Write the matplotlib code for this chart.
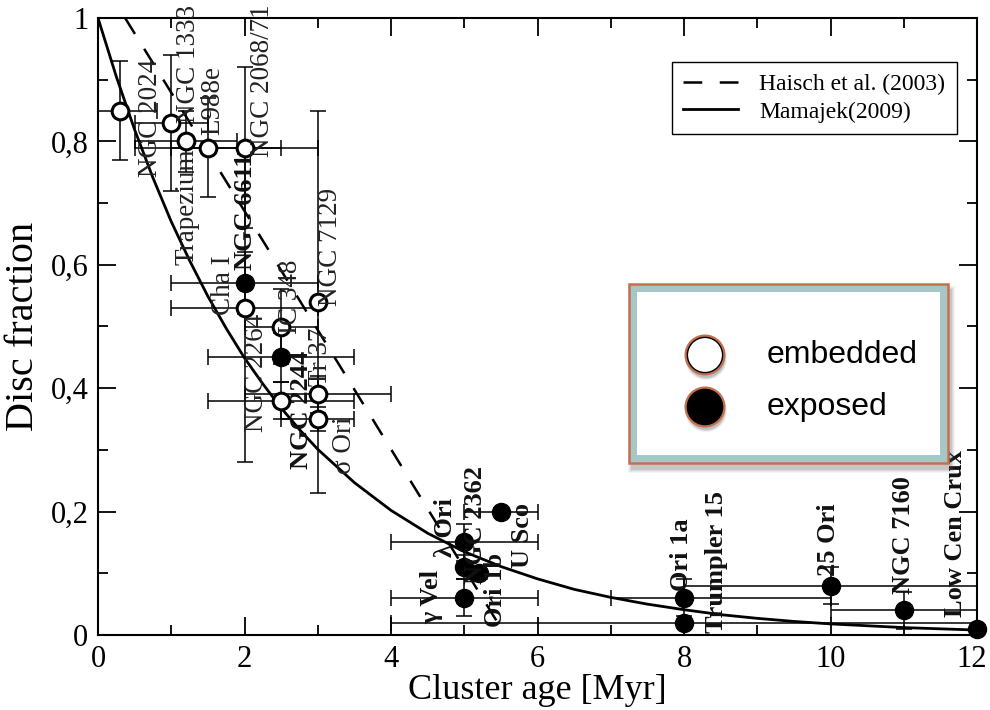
import matplotlib.pyplot as plt
from matplotlib.patches import Rectangle, Circle
from matplotlib.ticker import MultipleLocator
from matplotlib.transforms import ScaledTranslation

plt.rcParams['font.family'] = ['Liberation Serif', 'DejaVu Serif']

# embedded clusters (open symbols)
emb_names = ['NGC 2024', 'NGC 1333', 'Trapezium', 'L988e', 'NGC 2068/71', 'Cha I',
             'IC 348', 'NGC 7129', 'NGC 2264', 'Tr 37', 'σ Ori']
emb_age = [0.3, 1.0, 1.2, 1.5, 2.0, 2.0, 2.5, 3.0, 2.5, 3.0, 3.0]
emb_frac = [0.85, 0.83, 0.80, 0.79, 0.79, 0.53, 0.50, 0.54, 0.38, 0.39, 0.35]
emb_age_lo = [0.3, 0.5, 0.7, 1.0, 1.0, 1.0, 0.5, 0.0, 1.0, 1.0, 0.5]
emb_age_hi = [0.5, 0.5, 0.7, 1.0, 1.0, 1.0, 0.5, 0.0, 1.0, 1.0, 0.5]
emb_frac_err = [0.08, 0.11, 0.05, 0.08, 0.13, 0.25, 0.06, 0.31, 0.03, 0.03, 0.02]

# exposed clusters (filled symbols)
exp_names = ['NGC 6611', 'NGC 2244', 'λ Ori', 'NGC 2362', 'Ori 1b', 'γ Vel', 'U Sco',
             'Ori 1a', 'Trumpler 15', '25 Ori', 'NGC 7160', 'Low Cen Crux']
exp_age = [2.0, 2.5, 5.0, 5.0, 5.2, 5.0, 5.5, 8.0, 8.0, 10.0, 11.0, 12.0]
exp_frac = [0.57, 0.45, 0.15, 0.11, 0.10, 0.06, 0.20, 0.06, 0.02, 0.08, 0.04, 0.01]
exp_age_lo = [1.0, 1.0, 1.0, 0.0, 0.0, 1.0, 0.5, 1.0, 4.0, 2.0, 1.0, 0.0]
exp_age_hi = [1.0, 1.0, 1.0, 0.0, 0.0, 1.0, 0.5, 2.0, 4.0, 2.0, 1.0, 0.0]
exp_frac_err = [0.05, 0.04, 0.03, 0.02, 0.0, 0.03, 0.0, 0.03, 0.0, 0.03, 0.03, 0.0]

# disc fraction curves
haisch_age = [0.37, 2.35, 4.42, 5.56]
haisch_frac = [1.0, 0.62, 0.22, 0.0]
mamajek_age = [0, 0.25, 0.5, 0.75, 1, 1.25, 1.5, 1.75, 2, 2.25, 2.5, 2.75, 3, 3.5,
               4, 4.5, 5, 5.5, 6, 6.5, 7, 7.5, 8, 8.5, 9, 9.5, 10, 10.5, 11, 11.5, 12]
mamajek_frac = [1.0, 0.905, 0.819, 0.741, 0.670, 0.607, 0.549, 0.497, 0.449, 0.407,
                0.368, 0.333, 0.301, 0.247, 0.202, 0.165, 0.135, 0.111, 0.091, 0.074,
                0.061, 0.050, 0.041, 0.033, 0.027, 0.022, 0.018, 0.015, 0.012, 0.010,
                0.008]

xticks = [0, 2, 4, 6, 8, 10, 12]
yticks = [0, 0.2, 0.4, 0.6, 0.8, 1]
ytick_labels = ['0', '0,2', '0,4', '0,6', '0,8', '1']

# where the cluster names sit (data units)
emb_label_xy = [(0.71, 0.838), (1.23, 0.925), (1.22, 0.694), (1.57, 0.867),
                (2.25, 0.898), (1.72, 0.567), (2.63, 0.548), (3.17, 0.629),
                (2.16, 0.425), (3.04, 0.451), (3.37, 0.308)]
exp_label_xy = [(2.02, 0.686), (2.78, 0.365), (4.75, 0.175), (5.15, 0.178),
                (5.42, 0.073), (4.56, 0.062), (5.80, 0.162), (7.97, 0.130),
                (8.44, 0.118), (9.97, 0.154), (10.99, 0.162), (11.71, 0.165)]

fig = plt.figure(figsize=(9.9, 7.1), dpi=100)
ax = fig.add_axes([98 / 990, 1 - 635 / 710, 879 / 990, 617 / 710])

ax.plot(haisch_age, haisch_frac, color='black', lw=1.8, dashes=(7.5, 7),
        label='Haisch et al. (2003)', zorder=3)
ax.plot(mamajek_age, mamajek_frac, color='black', lw=2.0,
        label='Mamajek(2009)', zorder=3)


def draw_err(x, y, lo, hi, ye):
    if lo or hi:
        ax.errorbar(x, y, xerr=[[lo], [hi]], fmt='none', ecolor='black',
                    elinewidth=1.1, capsize=6, capthick=1.1, zorder=2)
    if ye:
        ax.errorbar(x, y, yerr=ye, fmt='none', ecolor='black',
                    elinewidth=1.1, capsize=6, capthick=1.1, zorder=2)


for i in range(len(emb_age)):
    draw_err(emb_age[i], emb_frac[i], emb_age_lo[i], emb_age_hi[i], emb_frac_err[i])
for i in range(len(exp_age)):
    draw_err(exp_age[i], exp_frac[i], exp_age_lo[i], exp_age_hi[i], exp_frac_err[i])

ax.plot(emb_age, emb_frac, 'o', ms=12, mfc='white', mec='black', mew=2.2,
        ls='none', zorder=4, clip_on=False)
ax.plot(exp_age, exp_frac, 'o', ms=13, mfc='black', mec='black',
        ls='none', zorder=4, clip_on=False)

for name, (lx, ly) in zip(emb_names, emb_label_xy):
    ax.text(lx, ly, name, rotation=90, ha='center', va='center',
            fontsize=19.5, color='#222222', zorder=5)
for name, (lx, ly) in zip(exp_names, exp_label_xy):
    ax.text(lx, ly, name, rotation=90, ha='center', va='center',
            fontsize=19, fontweight='bold', color='#111111', zorder=5)

ax.set_xlim(0, 12)
ax.set_ylim(0, 1)
ax.set_xticks(xticks)
ax.set_yticks(yticks)
ax.set_yticklabels(ytick_labels)
ax.xaxis.set_minor_locator(MultipleLocator(1))
ax.yaxis.set_minor_locator(MultipleLocator(0.1))
ax.tick_params(which='both', direction='in', top=True, right=True, width=1.3,
               labelsize=22, pad=7)
ax.tick_params(which='major', length=13)
ax.tick_params(which='minor', length=7)
for sp in ax.spines.values():
    sp.set_linewidth(1.5)

# nudge the last age label so it stays inside the figure
last = ax.get_xticklabels()[-1]
last.set_transform(last.get_transform() + ScaledTranslation(-4 / 72, 0, fig.dpi_scale_trans))

ax.set_xlabel('Cluster age [Myr]', fontsize=26, labelpad=0)
ax.set_ylabel('Disc fraction', fontsize=29, labelpad=6)

leg = ax.legend(loc='upper right', bbox_to_anchor=(0.977, 0.929), borderaxespad=0,
                fontsize=17, handlelength=2.3, handletextpad=0.9, fancybox=False,
                framealpha=1, borderpad=0.5, labelspacing=0.25)
leg.get_frame().set_edgecolor('black')
leg.get_frame().set_linewidth(1.0)

# symbol key box drawn over the plot
box = fig.add_axes([619 / 990, 1 - 473 / 710, 339 / 990, 199 / 710])
box.set_xlim(-10, 329)
box.set_ylim(-10, 189)
box.axis('off')
for k, a in enumerate([0.06, 0.08, 0.10, 0.14]):
    g = 4 - k
    box.add_patch(Rectangle((3 - g, -6 - g), 319 + 2 * g, 179 + 2 * g,
                            facecolor='#555555', edgecolor='none', alpha=a))
box.add_patch(Rectangle((0, 0), 319, 179, facecolor='#a7c6c6',
                        edgecolor='#c4704f', lw=1.8))
box.add_patch(Rectangle((8, 8), 303, 163, facecolor='white', edgecolor='none'))

for cy, face in [(108, 'white'), (56, 'black')]:
    for k, a in enumerate([0.08, 0.12, 0.18]):
        box.add_patch(Circle((77, cy - 4), 21 - k, facecolor='#444444',
                             edgecolor='none', alpha=a))
    box.add_patch(Circle((76, cy), 19, facecolor=face, edgecolor='#c4704f', lw=2.2))
    box.add_patch(Circle((76, cy), 17.6, facecolor='none', edgecolor='black', lw=1.0))

box.text(138, 108, 'embedded', fontsize=23, family=['Liberation Sans', 'DejaVu Sans'],
         va='center', ha='left')
box.text(138, 56, 'exposed', fontsize=23, family=['Liberation Sans', 'DejaVu Sans'],
         va='center', ha='left')

fig.savefig('out.png', dpi=100)
